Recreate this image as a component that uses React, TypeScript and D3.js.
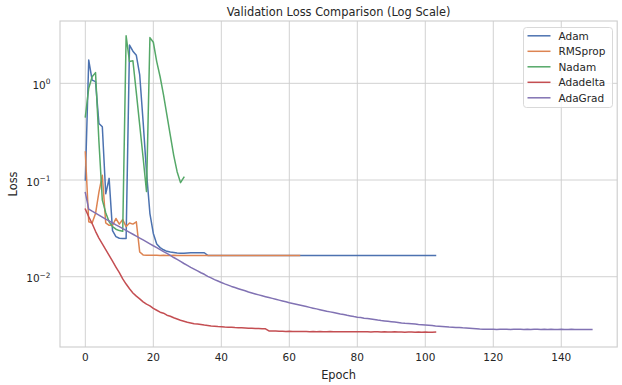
import React from 'react'
import * as d3 from 'd3'

// validation loss per epoch
const adamLoss = [
  0.100, 1.74, 1.08, 1.04, 0.385, 0.355, 0.072, 0.104, 0.030, 0.026,
  0.025, 0.0248, 0.0248, 2.49, 2.15, 1.95, 1.22, 0.40, 0.12, 0.045,
  0.028, 0.0218, 0.0200, 0.0190, 0.0183, 0.0180, 0.0178, 0.0176, 0.0175, 0.0175,
  0.0176, 0.0177, 0.0177, 0.0177, 0.0177, 0.0177, 0.0166, 0.0166, 0.0166, 0.0166,
  0.0166, 0.0166, 0.0166, 0.0166, 0.0166, 0.0166, 0.0166, 0.0166, 0.0166, 0.0166,
  0.0166, 0.0166, 0.0166, 0.0166, 0.0166, 0.0166, 0.0166, 0.0166, 0.0166, 0.0166,
  0.0166, 0.0166, 0.0166, 0.0166, 0.0166, 0.0166, 0.0166, 0.0166, 0.0166, 0.0166,
  0.0166, 0.0166, 0.0166, 0.0166, 0.0166, 0.0166, 0.0166, 0.0166, 0.0166, 0.0166,
  0.0166, 0.0166, 0.0166, 0.0166, 0.0166, 0.0166, 0.0166, 0.0166, 0.0166, 0.0166,
  0.0166, 0.0166, 0.0166, 0.0166, 0.0166, 0.0166, 0.0166, 0.0166, 0.0166, 0.0166,
  0.0166, 0.0166, 0.0166, 0.0166,
]

const rmspropLoss = [
  0.195, 0.037, 0.036, 0.045, 0.075, 0.112, 0.036, 0.034, 0.034, 0.040,
  0.035, 0.039, 0.033, 0.036, 0.035, 0.037, 0.018, 0.0168, 0.0167, 0.0167,
  0.0167, 0.0167, 0.0166, 0.0167, 0.0166, 0.0166, 0.0167, 0.0166, 0.0166, 0.0166,
  0.0166, 0.0166, 0.0166, 0.0166, 0.0166, 0.0166, 0.0166, 0.0166, 0.0166, 0.0166,
  0.0166, 0.0166, 0.0166, 0.0166, 0.0166, 0.0166, 0.0166, 0.0166, 0.0166, 0.0166,
  0.0166, 0.0166, 0.0166, 0.0166, 0.0166, 0.0166, 0.0166, 0.0166, 0.0166, 0.0166,
  0.0166, 0.0166, 0.0166, 0.0166,
]

const nadamLoss = [
  0.45, 0.89, 1.17, 1.29, 0.25, 0.062, 0.046, 0.037, 0.033, 0.031,
  0.030, 0.0295, 3.1, 1.68, 1.71, 0.80, 0.37, 0.17, 0.076, 2.97,
  2.66, 1.68, 1.17, 0.76, 0.47, 0.29, 0.18, 0.122, 0.094, 0.107,
]

const adadeltaLoss = [
  0.0500, 0.0417, 0.0355, 0.0295, 0.0251, 0.0219, 0.0191, 0.0166, 0.0145, 0.0126,
  0.0110, 0.0095, 0.0084, 0.0075, 0.0068, 0.0063, 0.0059, 0.0055, 0.0052, 0.0050,
  0.0047, 0.0045, 0.0043, 0.0042, 0.0040, 0.0039, 0.00376, 0.00365, 0.00355, 0.00347,
  0.00339, 0.00333, 0.00327, 0.00324, 0.00320, 0.00316, 0.00313, 0.00310, 0.00308, 0.00305,
  0.00304, 0.00302, 0.00301, 0.00300, 0.00298, 0.00297, 0.00296, 0.00295, 0.00294, 0.00293,
  0.00292, 0.00291, 0.00290, 0.00289, 0.00275, 0.00274, 0.00274, 0.00273, 0.00273, 0.00272,
  0.00273, 0.00272, 0.00271, 0.00272, 0.00271, 0.00271, 0.00270, 0.00271, 0.00270, 0.00271,
  0.00270, 0.00270, 0.00271, 0.00270, 0.00269, 0.00270, 0.00270, 0.00269, 0.00270, 0.00269,
  0.00269, 0.00270, 0.00269, 0.00269, 0.00268, 0.00269, 0.00269, 0.00268, 0.00269, 0.00268,
  0.00268, 0.00269, 0.00268, 0.00268, 0.00267, 0.00268, 0.00268, 0.00267, 0.00268, 0.00267,
  0.00268, 0.00267, 0.00267, 0.00268,
]

const adagradLoss = [
  0.0741, 0.0501, 0.0476, 0.0454, 0.0434, 0.0414, 0.0395, 0.0378, 0.0361, 0.0344,
  0.0330, 0.0315, 0.0302, 0.0288, 0.0275, 0.0263, 0.0251, 0.0240, 0.0229, 0.0219,
  0.0209, 0.0200, 0.0191, 0.0182, 0.0174, 0.0166, 0.0158, 0.0151, 0.0144, 0.0137,
  0.0131, 0.0125, 0.0120, 0.0115, 0.0110, 0.0106, 0.0101, 0.00973, 0.00933, 0.00902,
  0.00871, 0.00843, 0.00818, 0.00794, 0.00773, 0.00752, 0.00733, 0.00715, 0.00695, 0.00679,
  0.00664, 0.00649, 0.00635, 0.00622, 0.00610, 0.00597, 0.00585, 0.00573, 0.00561, 0.00550,
  0.00538, 0.00528, 0.00519, 0.00509, 0.00500, 0.00491, 0.00482, 0.00473, 0.00465, 0.00456,
  0.00448, 0.00440, 0.00433, 0.00426, 0.00419, 0.00412, 0.00406, 0.00399, 0.00393, 0.00387,
  0.00382, 0.00378, 0.00373, 0.00369, 0.00365, 0.00361, 0.00356, 0.00352, 0.00349, 0.00346,
  0.00343, 0.00340, 0.00337, 0.00333, 0.00330, 0.00328, 0.00326, 0.00324, 0.00321, 0.00319,
  0.00317, 0.00315, 0.00313, 0.00310, 0.00308, 0.00306, 0.00304, 0.00302, 0.00301, 0.00299,
  0.00298, 0.00296, 0.00295, 0.00294, 0.00292, 0.00290, 0.00288, 0.00287, 0.00287, 0.00286,
  0.00287, 0.00285, 0.00286, 0.00287, 0.00286, 0.00285, 0.00286, 0.00287, 0.00286, 0.00285,
  0.00286, 0.00285, 0.00286, 0.00287, 0.00285, 0.00286, 0.00285, 0.00286, 0.00285, 0.00285,
  0.00286, 0.00285, 0.00285, 0.00286, 0.00285, 0.00284, 0.00285, 0.00285, 0.00284, 0.00285,
]

const seriesNames = ['Adam', 'RMSprop', 'Nadam', 'Adadelta', 'AdaGrad']
const seriesColors = ['#4C72B0', '#DD8452', '#55A868', '#C44E52', '#8172B3']
const xTicks = [0, 20, 40, 60, 80, 100, 120, 140]
const yTicks = [1, 0.1, 0.01]
const yTickExps = ['0', '\u22121', '\u22122']

const W = 622
const H = 385
const left = 60
const right = 617.2
const top = 21
const bottom = 347
const font = 'DejaVu Sans, sans-serif'
const ink = '#262626'
const gridColor = '#cccccc'

export default function App() {
  const series = [adamLoss, rmspropLoss, nadamLoss, adadeltaLoss, adagradLoss]

  // matplotlib-style 5% margins (log space for y)
  const maxLen = d3.max(series, s => s.length - 1) as number
  const xPad = maxLen * 0.05
  const x = d3.scaleLinear().domain([-xPad, maxLen + xPad]).range([left, right])

  const all = series.flat()
  const lo = Math.log10(d3.min(all) as number)
  const hi = Math.log10(d3.max(all) as number)
  const yPad = (hi - lo) * 0.05
  const y = d3.scaleLog().domain([Math.pow(10, lo - yPad), Math.pow(10, hi + yPad)]).range([bottom, top])

  const line = d3.line<number>().x((d, i) => x(i)).y(d => y(d))

  return (
    <div style={{ position: 'absolute', left: 0, top: 0 }}>
      <svg width={W} height={H} style={{ display: 'block', background: '#fff' }}>
        <defs>
          <clipPath id="plot">
            <rect x={left} y={top} width={right - left} height={bottom - top} />
          </clipPath>
        </defs>

        <text x={(left + right) / 2} y={16} textAnchor="middle" fontFamily={font} fontSize={11.4} fill={ink}>
          Validation Loss Comparison (Log Scale)
        </text>

        {xTicks.map(t => (
          <line key={'gx' + t} x1={x(t)} x2={x(t)} y1={top} y2={bottom} stroke={gridColor} strokeWidth={0.9} />
        ))}
        {yTicks.map(t => (
          <line key={'gy' + t} x1={left} x2={right} y1={y(t)} y2={y(t)} stroke={gridColor} strokeWidth={0.9} />
        ))}

        <g clipPath="url(#plot)">
          {series.map((s, i) => (
            <path key={seriesNames[i]} d={line(s) || ''} fill="none" stroke={seriesColors[i]}
              strokeWidth={1.5} strokeLinejoin="round" strokeLinecap="square" />
          ))}
        </g>

        <rect x={left} y={top} width={right - left} height={bottom - top} fill="none" stroke={gridColor} strokeWidth={1.1} />

        {xTicks.map(t => (
          <text key={'tx' + t} x={x(t)} y={361} textAnchor="middle" fontFamily={font} fontSize={10.5} fill={ink}>{t}</text>
        ))}
        {yTicks.map((t, i) => (
          <text key={'ty' + t} x={50.5} y={y(t) + 5.5} textAnchor="end" fontFamily={font} fontSize={10.5} fill={ink}>
            10<tspan dy={-4.6} fontSize={7.4}>{yTickExps[i]}</tspan>
          </text>
        ))}

        <text x={(left + right) / 2} y={379} textAnchor="middle" fontFamily={font} fontSize={11.4} fill={ink}>Epoch</text>
        <text transform={`translate(16.5,${(top + bottom) / 2}) rotate(-90)`} textAnchor="middle" fontFamily={font} fontSize={11.4} fill={ink}>Loss</text>

        <g>
          <rect x={523.5} y={27.5} width={89} height={80} rx={3} fill="#fff" fillOpacity={0.8} stroke="#d5d5d5" strokeWidth={0.9} />
          {seriesNames.map((n, i) => {
            const ry = 35.8 + i * 15.5
            return (
              <g key={'lg' + n}>
                <line x1={527.5} x2={550.5} y1={ry} y2={ry} stroke={seriesColors[i]} strokeWidth={1.5} />
                <text x={558.5} y={ry + 3.8} fontFamily={font} fontSize={10.5} fill={ink}>{n}</text>
              </g>
            )
          })}
        </g>
      </svg>
    </div>
  )
}
